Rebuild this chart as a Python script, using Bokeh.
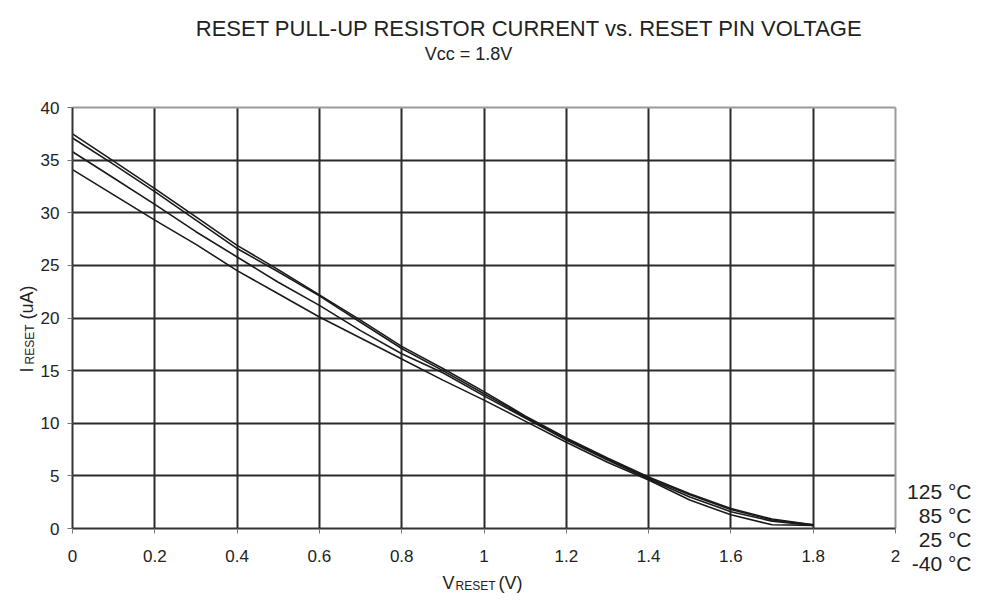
import math
from bokeh.plotting import figure
from bokeh.models import Label, FixedTicker, LinearAxis, Grid, Range1d
from bokeh.embed import file_html
from bokeh.resources import INLINE

# ---- data ----
v_reset = [0, 0.1, 0.2, 0.3, 0.4, 0.5, 0.6, 0.7, 0.8, 0.9, 1.0,
           1.1, 1.2, 1.3, 1.4, 1.5, 1.6, 1.7, 1.8]
i_m40 = [37.5, 34.9, 32.3, 29.6, 26.9, 24.6, 22.2, 19.8, 17.3, 15.2, 13.0,
         10.7, 8.6, 6.7, 4.9, 3.3, 1.9, 0.9, 0.35]
i_25 = [37.1, 34.6, 32.0, 29.3, 26.6, 24.4, 22.1, 19.6, 17.1, 15.0, 12.8,
        10.6, 8.5, 6.6, 4.8, 3.2, 1.8, 0.8, 0.35]
i_85 = [35.8, 33.3, 30.8, 28.2, 25.8, 23.4, 21.2, 18.8, 16.6, 14.8, 12.6,
        10.5, 8.4, 6.5, 4.7, 3.0, 1.6, 0.7, 0.3]
i_125 = [34.1, 31.7, 29.3, 27.0, 24.5, 22.3, 20.1, 18.1, 16.1, 14.1, 12.2,
         10.2, 8.2, 6.3, 4.6, 2.7, 1.3, 0.35, 0.3]
series = [i_m40, i_25, i_85, i_125]

x_ticks = [0, 0.2, 0.4, 0.6, 0.8, 1, 1.2, 1.4, 1.6, 1.8, 2]
x_tick_labels = ["0", "0.2", "0.4", "0.6", "0.8", "1", "1.2", "1.4", "1.6", "1.8", "2"]
y_ticks = [0, 5, 10, 15, 20, 25, 30, 35, 40]
legend_labels = ["125 °C", "85 °C", "25 °C", "-40 °C"]

title_text = "RESET PULL-UP RESISTOR CURRENT vs. RESET PIN VOLTAGE"
subtitle_text = "Vcc = 1.8V"

# ---- layout constants (pixels) ----
W, H = 974, 594
X0_PX, X_SCALE = 72.0, 411.5     # pixel of x=0, pixels per volt
Y0_PX, Y_SCALE = 528.0, 10.525   # pixel of y=0, pixels per uA

FONT = "Liberation Sans"
INK = "#222222"

x_range = Range1d(-X0_PX / X_SCALE, (W - X0_PX) / X_SCALE)
y_range = Range1d((Y0_PX - H) / Y_SCALE, Y0_PX / Y_SCALE)

p = figure(width=W, height=H, x_range=x_range, y_range=y_range,
           x_axis_type=None, y_axis_type=None, min_border=0,
           output_backend="svg", toolbar_location=None)
p.background_fill_color = "white"
p.border_fill_color = "white"
p.outline_line_color = None

x_lim = (x_ticks[0], x_ticks[-1])
y_lim = (y_ticks[0], y_ticks[-1])

# grid lines (inner) and plot-area border (top / right)
for dim, ticks, cross in ((0, x_ticks[1:-1], y_lim), (1, y_ticks[1:-1], x_lim)):
    p.add_layout(Grid(dimension=dim, ticker=FixedTicker(ticks=ticks), cross_bounds=cross,
                      grid_line_color="#2b2b2b", grid_line_width=2))
p.add_layout(Grid(dimension=0, ticker=FixedTicker(ticks=[x_ticks[-1]]), cross_bounds=y_lim,
                  grid_line_color="#9a9a9a", grid_line_width=2))
p.add_layout(Grid(dimension=1, ticker=FixedTicker(ticks=[y_ticks[-1]]), cross_bounds=x_lim,
                  grid_line_color="#9a9a9a", grid_line_width=2))

# axes fixed at the origin
xaxis = LinearAxis(fixed_location=0, bounds=x_lim, ticker=FixedTicker(ticks=x_ticks),
                   major_label_overrides={t: s for t, s in zip(x_ticks, x_tick_labels)})
yaxis = LinearAxis(fixed_location=0, bounds=y_lim, ticker=FixedTicker(ticks=y_ticks))
for ax in (xaxis, yaxis):
    ax.axis_line_color = "#333333"
    ax.axis_line_width = 2
    ax.major_tick_line_color = "#777777"
    ax.major_tick_out = 5
    ax.major_tick_in = 0
    ax.minor_tick_line_color = None
    ax.major_label_text_font = FONT
    ax.major_label_text_font_size = "17px"
    ax.major_label_text_color = INK
xaxis.major_label_standoff = 16
yaxis.major_label_standoff = 8
p.add_layout(xaxis, "below")
p.add_layout(yaxis, "left")

for ys in series:
    p.line(v_reset, ys, line_color="#1a1a1a", line_width=1.6)

def lab(text, px, py, size, angle=0, align="left"):
    # px, py: picture pixels from the top-left corner (baseline point)
    p.add_layout(Label(x=px, y=H - py, x_units="screen", y_units="screen", text=text,
                       text_font=FONT, text_font_size=size, text_color=INK,
                       text_align=align, text_baseline="alphabetic", angle=angle))

# titles
lab(title_text, 529, 28, "22px", align="center")
lab(subtitle_text, 468, 53, "18px", align="center")

# legend labels at right
for k, t in enumerate(legend_labels):
    lab(t, 971, 491 + 24 * k, "21px", align="right")

# x axis label: V_RESET (V)
lab("V", 442, 582, "18px")
lab("RESET", 455, 585, "12px")
lab("(V)", 498, 582, "18px")

# y axis label: I_RESET (uA), rotated
a = math.pi / 2
lab("I", 26, 372, "18px", angle=a)
lab("RESET", 29, 364, "12px", angle=a)
lab("(uA)", 26, 319, "18px", angle=a)

open("out.html", "w").write(file_html(p, INLINE))
